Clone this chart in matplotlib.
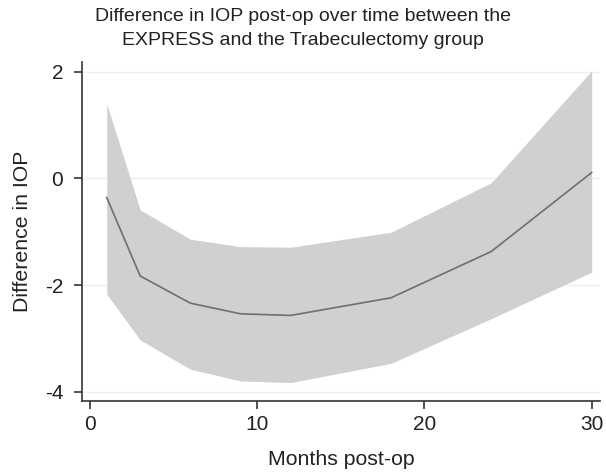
import matplotlib
matplotlib.use("Agg")
import matplotlib.pyplot as plt

months = [1, 3, 6, 9, 12, 18, 24, 30]
mean_diff = [-0.36, -1.83, -2.34, -2.54, -2.57, -2.24, -1.37, 0.11]
upper_ci = [1.40, -0.59, -1.14, -1.28, -1.29, -1.01, -0.08, 2.02]
lower_ci = [-2.17, -3.03, -3.58, -3.80, -3.83, -3.47, -2.63, -1.76]
xticks = [0, 10, 20, 30]
yticks = [-4, -2, 0, 2]

plt.rcParams['font.family'] = ['Liberation Sans', 'DejaVu Sans']
plt.rcParams['axes.unicode_minus'] = False

fig = plt.figure(figsize=(6.06, 4.72), dpi=100)
ax = fig.add_axes([82/606, (472-400.7)/472, (600-82)/606, (400.7-61.7)/472])

ax.fill_between(months, lower_ci, upper_ci, color='#cfd0d2', linewidth=0, zorder=2)
ax.plot(months, mean_diff, color='#6e6e6e', linewidth=1.2, zorder=3)

ax.set_xlim(-0.48, 30.5)
ax.set_ylim(-4.17, 2.19)
ax.set_xticks(xticks)
ax.set_yticks(yticks)
for y in yticks:
    ax.axhline(y, color='#efefef', linewidth=1.0, zorder=1)

for s in ['top', 'right']:
    ax.spines[s].set_visible(False)
for s in ['left', 'bottom']:
    ax.spines[s].set_color('#333333')
    ax.spines[s].set_linewidth(1.2)
ax.tick_params(axis='both', direction='out', length=5.5, width=1.2, color='#333333',
               labelsize=15, labelcolor='#222222')
ax.tick_params(axis='y', pad=8)
ax.tick_params(axis='x', pad=5)

ax.set_xlabel('Months post-op', fontsize=15.3, color='#222222', labelpad=11)
ax.set_ylabel('Difference in IOP', fontsize=15.3, color='#222222', labelpad=9)
fig.text(0.5, 0.982, 'Difference in IOP post-op over time between the\nEXPRESS and the Trabeculectomy group',
         ha='center', va='top', fontsize=14, color='#222222', linespacing=1.5)

fig.savefig('out.png', dpi=100, facecolor='white')
